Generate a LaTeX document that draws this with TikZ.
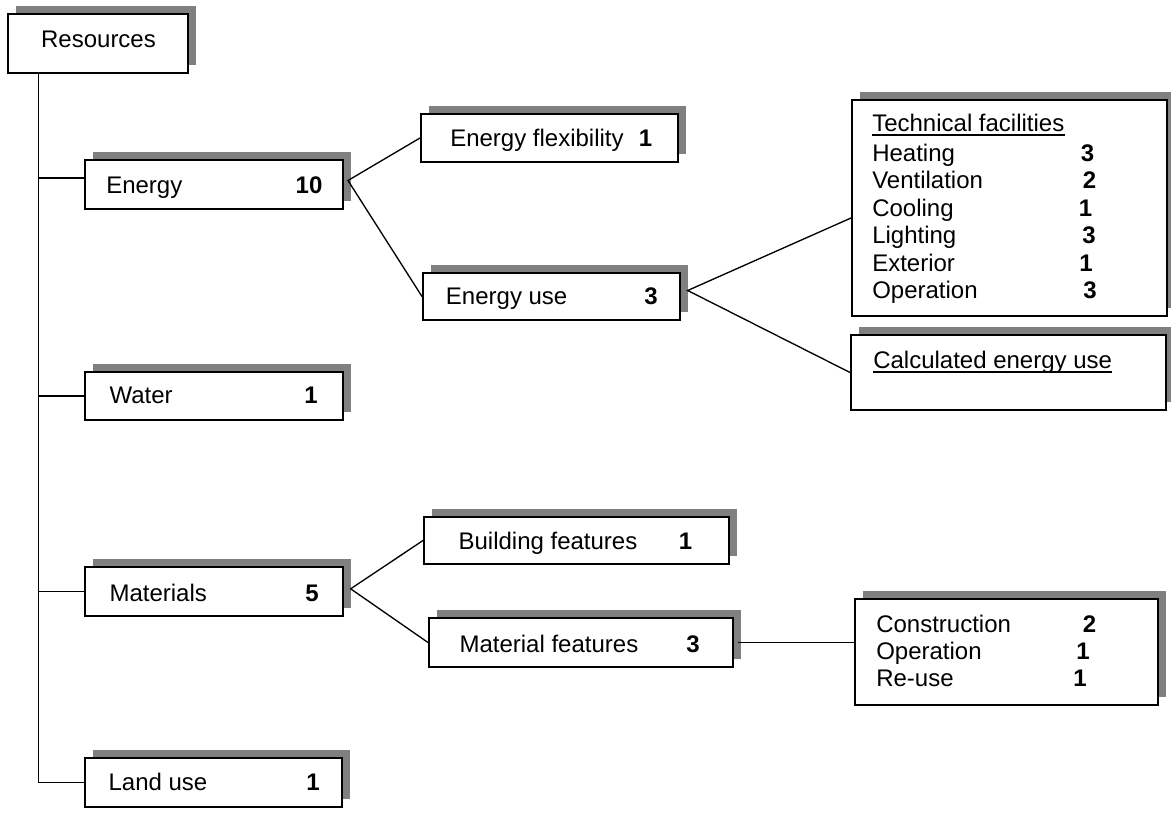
\documentclass[tikz,border=0pt]{standalone}
\usepackage{fontspec}
\setmainfont{Liberation Sans}
\usetikzlibrary{shadows,fit}
\newcommand\diagfont{\fontsize{18}{21}\selectfont}
\tikzset{
  box/.style={draw, line width=1.5pt, fill=white, inner sep=0pt,
    drop shadow={shadow xshift=6pt, shadow yshift=6pt, fill=gray, opacity=1}},
  conn/.style={line width=1pt},
  uline/.style={line width=1.2pt},
  lbl/.style={font=\diagfont, inner sep=0pt, anchor=base west},
  num/.style={font=\diagfont\bfseries, inner sep=0pt, anchor=base},
}
\begin{document}
\begin{tikzpicture}[x=0.75pt,y=-0.75pt]
\useasboundingbox (0,0) rectangle (1171,830);
% boxes
\node[box, fit={(8,14) (188,73)}] (res) {};
\node[box, fit={(421,114) (678,162)}] (eflex) {};
\node[box, fit={(85,160) (343,209)}] (energy) {};
\node[box, fit={(423,273) (680,320)}] (euse) {};
\node[box, fit={(852,100) (1167,316)}] (tech) {};
\node[box, fit={(851,335) (1166,410)}] (calc) {};
\node[box, fit={(85,372) (343,420)}] (water) {};
\node[box, fit={(424,517) (729,564)}] (bfeat) {};
\node[box, fit={(85,567) (343,616)}] (mat) {};
\node[box, fit={(429,618) (733,667)}] (mfeat) {};
\node[box, fit={(855,599) (1158,705)}] (cons) {};
\node[box, fit={(85,758) (342,807)}] (land) {};
% texts
\node[lbl, anchor=base] (res-t) at (98.5,47.7) {Resources};
\node[lbl] (eflex-t) at (450,146.7) {Energy flexibility};
\node[num] (eflex-n) at (645.5,146.7) {1};
\node[lbl] (energy-t) at (106,193.3) {Energy};
\node[num] (energy-n) at (309,193.3) {10};
\node[lbl] (euse-t) at (445.7,305) {Energy use};
\node[num] (euse-n) at (651,305) {3};
\node[lbl] (tech-t) at (872,131.7) {Technical facilities};
\node[lbl] (tech-1) at (872,161.7) {Heating};
\node[num] (tech-1n) at (1087.5,161.7) {3};
\node[lbl] (tech-2) at (872,189) {Ventilation};
\node[num] (tech-2n) at (1089.5,189) {2};
\node[lbl] (tech-3) at (872,216.5) {Cooling};
\node[num] (tech-3n) at (1085.5,216.5) {1};
\node[lbl] (tech-4) at (872,244) {Lighting};
\node[num] (tech-4n) at (1089,244) {3};
\node[lbl] (tech-5) at (872,271.5) {Exterior};
\node[num] (tech-5n) at (1086,271.5) {1};
\node[lbl] (tech-6) at (872,299) {Operation};
\node[num] (tech-6n) at (1090,299) {3};
\node[lbl] (calc-t) at (873,368.3) {Calculated energy use};
\node[lbl] (water-t) at (109.3,403.3) {Water};
\node[num] (water-n) at (311,403.3) {1};
\node[lbl] (bfeat-t) at (458.3,549.3) {Building features};
\node[num] (bfeat-n) at (685.5,549.3) {1};
\node[lbl] (mat-t) at (109.3,601) {Materials};
\node[num] (mat-n) at (312,601) {5};
\node[lbl] (mfeat-t) at (459.3,652) {Material features};
\node[num] (mfeat-n) at (693,652) {3};
\node[lbl] (cons-1) at (876,632.3) {Construction};
\node[num] (cons-1n) at (1089.5,632.3) {2};
\node[lbl] (cons-2) at (876,659.5) {Operation};
\node[num] (cons-2n) at (1083,659.5) {1};
\node[lbl] (cons-3) at (876,686.5) {Re-use};
\node[num] (cons-3n) at (1080,686.5) {1};
\node[lbl] (land-t) at (108.3,790) {Land use};
\node[num] (land-n) at (313,790) {1};
% underlines
\draw[uline] ([yshift=-2.6pt]tech-t.base west) -- ([yshift=-2.6pt]tech-t.base east);
\draw[uline] ([yshift=-2.6pt]calc-t.base west) -- ([yshift=-2.6pt]calc-t.base east);
% connectors
\coordinate (t0) at (38.7,73);
\coordinate (ein) at ([yshift=4.9pt]energy.west);
\draw[conn] (t0) |- (land.west);
\draw[conn] (t0 |- ein) -- (ein);
\draw[conn] (t0 |- water.west) -- (water.west);
\draw[conn] (t0 |- mat.west) -- (mat.west);
\coordinate (eout) at ([xshift=3pt,yshift=3pt]energy.east);
\draw[conn] (eflex.west) -- (eout) -- (euse.west);
\coordinate (uout) at ([xshift=5pt,yshift=4.5pt]euse.east);
\coordinate (tin) at ([yshift=-7.5pt]tech.west);
\draw[conn] (tin) -- (uout) -- (calc.west);
\coordinate (mout) at ([xshift=5pt,yshift=2pt]mat.east);
\draw[conn] (bfeat.west) -- (mout) -- (mfeat.west);
\coordinate (mfout) at ([xshift=3pt]mfeat.east);
\draw[conn] (mfout) -- (mfout -| cons.west);
\end{tikzpicture}
\end{document}
